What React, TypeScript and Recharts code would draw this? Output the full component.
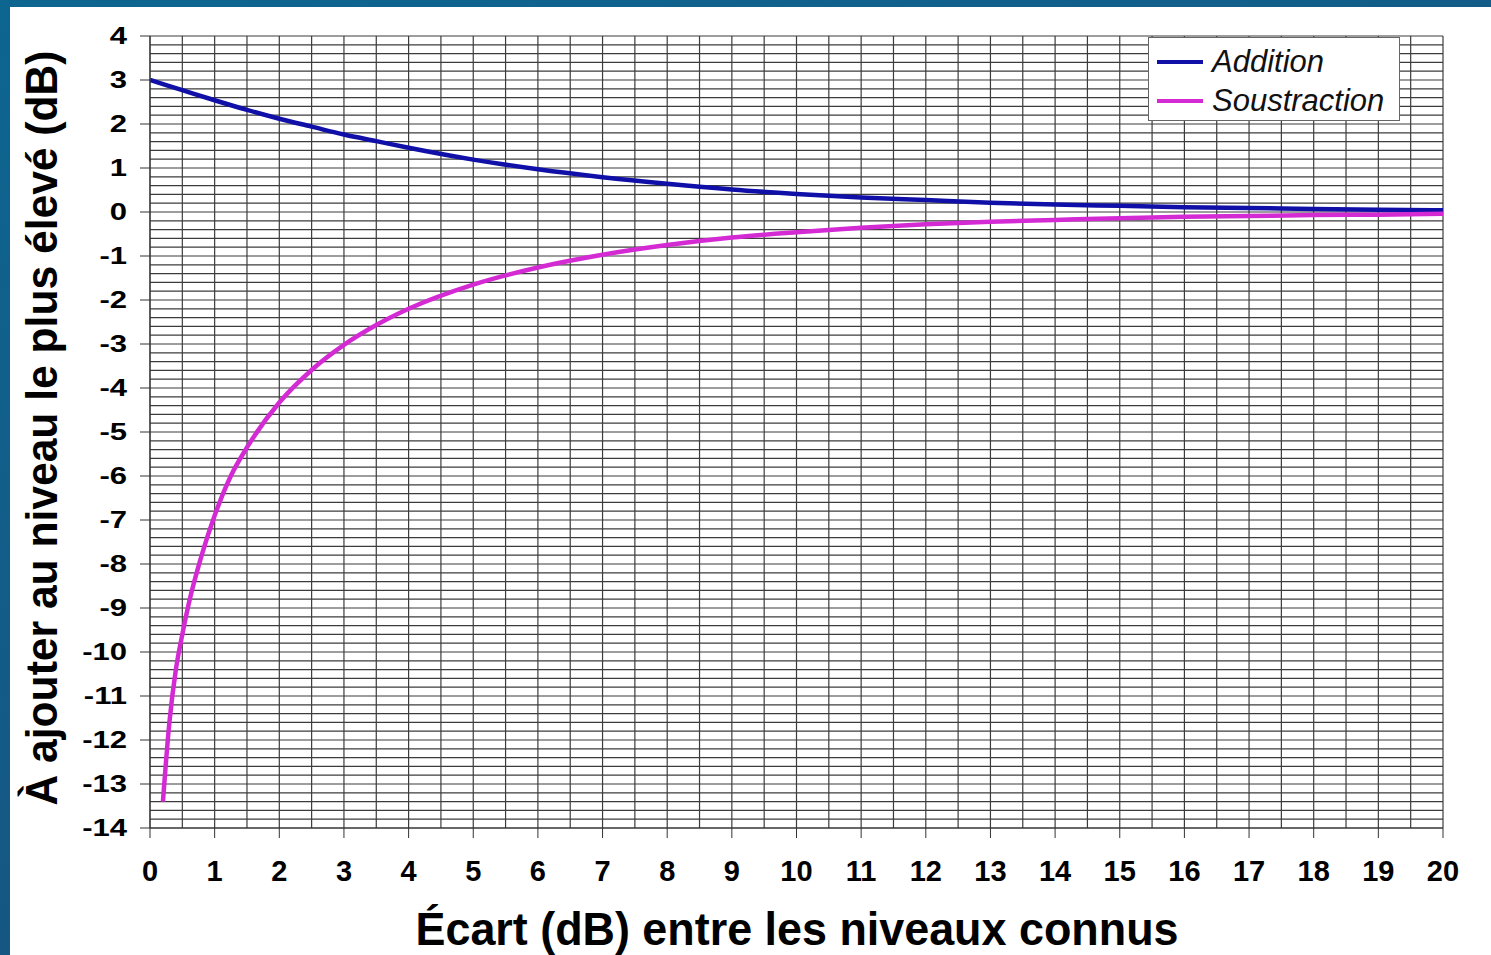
import {
  CartesianGrid,
  Legend,
  Line,
  LineChart,
  XAxis,
  YAxis,
} from "recharts";

const FONT = "'Liberation Sans', Arial, sans-serif";

// Écart (dB) entre les niveaux connus
const additionX = [0, 0.5, 1, 1.5, 2, 2.5, 3, 3.5, 4, 5, 6, 7, 8, 9, 10, 11, 12, 13, 14, 15, 16, 17, 18, 19, 20];
const additionY = [3.0, 2.77, 2.54, 2.32, 2.12, 1.94, 1.76, 1.61, 1.46, 1.19, 0.97, 0.79, 0.64, 0.51, 0.41, 0.33, 0.27, 0.21, 0.17, 0.14, 0.11, 0.09, 0.07, 0.05, 0.04];

const soustractionX = [0.2, 0.3, 0.4, 0.5, 0.6, 0.8, 1, 1.25, 1.5, 2, 2.5, 3, 3.5, 4, 5, 6, 7, 8, 9, 10, 11, 12, 13, 14, 15, 16, 17, 18, 19, 20];
const soustractionY = [-13.4, -11.6, -10.4, -9.6, -8.9, -7.8, -6.9, -6.0, -5.35, -4.33, -3.59, -3.02, -2.57, -2.2, -1.65, -1.26, -0.97, -0.75, -0.58, -0.46, -0.36, -0.28, -0.22, -0.18, -0.14, -0.11, -0.09, -0.07, -0.06, -0.04];

const xTicks = [0, 1, 2, 3, 4, 5, 6, 7, 8, 9, 10, 11, 12, 13, 14, 15, 16, 17, 18, 19, 20];
const yTicks = [4, 3, 2, 1, 0, -1, -2, -3, -4, -5, -6, -7, -8, -9, -10, -11, -12, -13, -14];

// fine grid: every 0.5 dB across, every 0.2 dB up
const gridX = Array.from({ length: 41 }, (_, i) => i * 0.5);
const gridY = Array.from({ length: 91 }, (_, i) => Math.round((-14 + i * 0.2) * 10) / 10);

const addition = additionX.map((x, i) => ({ x, y: additionY[i] }));
const soustraction = soustractionX.map((x, i) => ({ x, y: soustractionY[i] }));

const BLUE = "#1010a8";
const PINK = "#d42ad4";

function YTick({ x, y, payload }: any) {
  return (
    <g transform={`translate(${x},${y})`}>
      <text
        transform="scale(1.35,1)"
        textAnchor="end"
        dy="0.36em"
        fontFamily={FONT}
        fontWeight="bold"
        fontSize={23}
        fill="#000"
      >
        {payload.value}
      </text>
    </g>
  );
}

function LegendBox() {
  const items = [
    { name: "Addition", color: BLUE },
    { name: "Soustraction", color: PINK },
  ];
  return (
    <div
      style={{
        width: 252,
        height: 84,
        boxSizing: "border-box",
        background: "#fff",
        border: "1.5px solid #666",
        padding: "4px 0 0 8px",
      }}
    >
      {items.map((it) => (
        <div key={it.name} style={{ display: "flex", alignItems: "center", height: 39 }}>
          <div style={{ width: 46, height: 4, background: it.color, marginRight: 9 }} />
          <span style={{ fontFamily: FONT, fontStyle: "italic", fontSize: 31, color: "#111" }}>
            {it.name}
          </span>
        </div>
      ))}
    </div>
  );
}

export default function App() {
  return (
    <div
      style={{
        position: "absolute",
        left: 0,
        top: 0,
        width: 1491,
        height: 955,
        background: "linear-gradient(160deg, #0d6690 0%, #145a86 50%, #1a4f7a 100%)",
        overflow: "hidden",
      }}
    >
      <div
        style={{
          position: "absolute",
          left: 10,
          top: 7,
          width: 1481,
          height: 948,
          background: "#fff",
        }}
      />
      <div style={{ position: "absolute", left: 0, top: 0 }}>
        <LineChart
          width={1491}
          height={955}
          margin={{ top: 36, right: 48, left: 90, bottom: 67 }}
        >
          <CartesianGrid
            stroke="#3c3c3c"
            strokeWidth={1.2}
            horizontalValues={gridY}
            verticalValues={gridX}
          />
          <XAxis
            type="number"
            dataKey="x"
            domain={[0, 20]}
            ticks={xTicks}
            interval={0}
            height={60}
            tickSize={10}
            tickMargin={22}
            stroke="#333"
            tick={{ fontFamily: FONT, fontWeight: "bold", fontSize: 29, fill: "#000" }}
            allowDataOverflow
          />
          <YAxis
            type="number"
            domain={[-14, 4]}
            ticks={yTicks}
            interval={0}
            width={60}
            tickSize={10}
            tickMargin={13}
            stroke="#333"
            tick={<YTick />}
            allowDataOverflow
          />
          <Legend
            layout="vertical"
            align="center"
            verticalAlign="middle"
            content={<LegendBox />}
            wrapperStyle={{ left: 1148, top: 37, width: 252, height: 84 }}
          />
          <Line
            data={addition}
            dataKey="y"
            name="Addition"
            type="monotone"
            stroke={BLUE}
            strokeWidth={4.5}
            dot={false}
            isAnimationActive={false}
          />
          <Line
            data={soustraction}
            dataKey="y"
            name="Soustraction"
            type="monotone"
            stroke={PINK}
            strokeWidth={4.5}
            dot={false}
            isAnimationActive={false}
          />
        </LineChart>
      </div>
      <svg
        width={1491}
        height={955}
        style={{ position: "absolute", left: 0, top: 0, pointerEvents: "none" }}
      >
        <text
          x={797}
          y={945}
          textAnchor="middle"
          fontFamily={FONT}
          fontWeight="bold"
          fontSize={46}
          textLength={763}
          lengthAdjust="spacingAndGlyphs"
          fill="#000"
        >
          Écart (dB) entre les niveaux connus
        </text>
        <text
          transform="translate(57,428) rotate(-90)"
          textAnchor="middle"
          fontFamily={FONT}
          fontWeight="bold"
          fontSize={44}
          textLength={755}
          lengthAdjust="spacingAndGlyphs"
          fill="#000"
        >
          À ajouter au niveau le plus élevé (dB)
        </text>
      </svg>
    </div>
  );
}
